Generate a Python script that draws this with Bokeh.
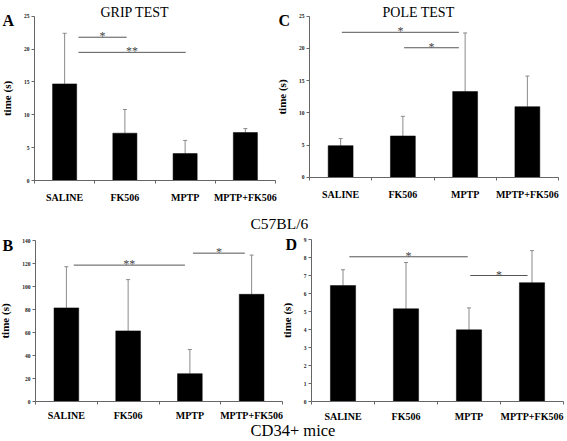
from bokeh.plotting import figure
from bokeh.models import (ColumnDataSource, FixedTicker, Label, Whisker, TeeHead,
                          Range1d, LinearAxis)
from bokeh.embed import file_html
from bokeh.resources import INLINE
from bokeh.core.properties import value

# ---------------- data ----------------
categories = ["SALINE", "FK506", "MPTP", "MPTP+FK506"]

# C57BL/6 - grip test (A)
grip_mean = [14.7, 7.2, 4.1, 7.3]
grip_sd = [7.7, 3.6, 2.0, 0.6]
grip_yticks = [0, 5, 10, 15, 20, 25]
grip_sig_x0 = [1.23, 1.23]
grip_sig_x1 = [2.03, 3.01]
grip_sig_y = [21.8, 19.5]
grip_sig_text = ["*", "**"]

# C57BL/6 - pole test (C)
pole_mean = [4.9, 6.4, 13.3, 10.95]
pole_sd = [1.1, 3.05, 9.1, 4.75]
pole_yticks = [0, 5, 10, 15, 20, 25]
pole_sig_x0 = [1.02, 2.02]
pole_sig_x1 = [2.90, 2.90]
pole_sig_y = [22.5, 20.1]
pole_sig_text = ["*", "*"]

# CD34+ mice - grip test (B)
cd34_grip_mean = [81.4, 61.4, 24.2, 93.2]
cd34_grip_sd = [35.8, 44.6, 21.0, 34.1]
cd34_grip_yticks = [0, 20, 40, 60, 80, 100, 120, 140]
cd34_grip_sig_x0 = [1.12, 3.05]
cd34_grip_sig_x1 = [2.92, 3.89]
cd34_grip_sig_y = [118.6, 129.0]
cd34_grip_sig_text = ["**", "*"]

# CD34+ mice - pole test (D)
cd34_pole_mean = [6.44, 5.15, 3.98, 6.6]
cd34_pole_sd = [0.88, 2.57, 1.22, 1.78]
cd34_pole_yticks = [0, 1, 2, 3, 4, 5, 6, 7, 8, 9]
cd34_pole_sig_x0 = [1.10, 3.02]
cd34_pole_sig_x1 = [2.98, 3.93]
cd34_pole_sig_y = [8.04, 7.0]
cd34_pole_sig_text = ["*", "*"]

FONT = "Liberation Serif"
AXIS_COLOR = "#666666"
W, H = 567, 441

p = figure(width=W, height=H, x_range=Range1d(0, W), y_range=Range1d(0, H),
           x_axis_location=None, y_axis_location=None, toolbar_location=None,
           output_backend="svg", min_border=0, title=None)
p.outline_line_color = None
p.grid.visible = False
p.background_fill_color = "white"
p.border_fill_color = "white"


def add_panel(name, means, sds, yticks, sx0, sx1, sy, stext, L, R, Z, T, xstand):
    """L/R: pixel x of the axis ends, Z/T: pixel y (from top) of y=0 and y=max."""
    n = len(categories)
    xs = list(range(1, n + 1))
    ymax = yticks[-1]
    kx = n / (R - L)
    x0 = 0.5 - L * kx
    ky = ymax / (Z - T)
    p.extra_x_ranges[name] = Range1d(x0, x0 + W * kx)
    p.extra_y_ranges[name] = Range1d(-(H - Z) * ky, ymax + T * ky)
    rn = dict(x_range_name=name, y_range_name=name)

    src = ColumnDataSource(dict(x=xs, mean=means,
                                upper=[m + s for m, s in zip(means, sds)]))
    p.vbar(x="x", top="mean", width=0.4, source=src,
           fill_color="black", line_color="black", line_width=0.5, **rn)
    wh = Whisker(source=src, base="x", lower="mean", upper="upper",
                 line_color="#8a8a8a", line_width=1,
                 upper_head=TeeHead(size=4, line_color="#8a8a8a", line_width=1),
                 lower_head=None, **rn)
    p.add_layout(wh)

    ssrc = ColumnDataSource(dict(x0=sx0, x1=sx1, y=sy, text=stext,
                                 xm=[(a + b) / 2 for a, b in zip(sx0, sx1)]))
    p.segment(x0="x0", y0="y", x1="x1", y1="y", source=ssrc,
              line_color="#555555", line_width=1, **rn)
    p.text(x="xm", y="y", text="text", source=ssrc,
           text_font=value(FONT), text_font_size="12px",
           text_align="center", text_baseline="alphabetic",
           text_color="#444444", y_offset=-1, **rn)

    xa = LinearAxis(fixed_location=0, bounds=(0.5, n + 0.5), **rn)
    xa.ticker = FixedTicker(ticks=xs, minor_ticks=[x - 0.5 for x in xs] + [xs[-1] + 0.5])
    xa.major_label_overrides = {x: c for x, c in zip(xs, categories)}
    xa.major_tick_out = 0
    xa.major_tick_in = 0
    xa.minor_tick_out = 3
    xa.minor_tick_in = 0
    xa.axis_line_color = AXIS_COLOR
    xa.minor_tick_line_color = AXIS_COLOR
    xa.major_label_text_font = FONT
    xa.major_label_text_font_style = "bold"
    xa.major_label_text_font_size = "10px"
    xa.major_label_text_color = "black"
    xa.major_label_standoff = xstand
    p.add_layout(xa, "below")

    ya = LinearAxis(fixed_location=0.5, bounds=(0, ymax), **rn)
    ya.ticker = FixedTicker(ticks=yticks, minor_ticks=[])
    ya.major_tick_out = 3
    ya.major_tick_in = 0
    ya.axis_line_color = AXIS_COLOR
    ya.major_tick_line_color = AXIS_COLOR
    ya.major_label_text_font = FONT
    ya.major_label_text_font_style = "bold"
    ya.major_label_text_font_size = "5.5px"
    ya.major_label_text_color = "#222222"
    ya.major_label_standoff = 2
    ya.axis_label = "time (s)"
    ya.axis_label_text_font = FONT
    ya.axis_label_text_font_style = "bold"
    ya.axis_label_text_font_size = "11px"
    ya.axis_label_text_color = "black"
    ya.axis_label_standoff = 8
    p.add_layout(ya, "left")


add_panel("A", grip_mean, grip_sd, grip_yticks, grip_sig_x0, grip_sig_x1, grip_sig_y,
          grip_sig_text, 34, 275, 180, 15.7, 8)
add_panel("C", pole_mean, pole_sd, pole_yticks, pole_sig_x0, pole_sig_x1, pole_sig_y,
          pole_sig_text, 309, 558, 176.7, 15.7, 9)
add_panel("B", cd34_grip_mean, cd34_grip_sd, cd34_grip_yticks, cd34_grip_sig_x0,
          cd34_grip_sig_x1, cd34_grip_sig_y, cd34_grip_sig_text, 35, 282, 401, 240, 5)
add_panel("D", cd34_pole_mean, cd34_pole_sd, cd34_pole_yticks, cd34_pole_sig_x0,
          cd34_pole_sig_x1, cd34_pole_sig_y, cd34_pole_sig_text, 311, 563, 401, 239, 6)


def add_text(txt, x, y, size, bold=False):
    p.add_layout(Label(x=x, y=y, x_units="screen", y_units="screen", text=txt,
                       text_font=FONT, text_font_style="bold" if bold else "normal",
                       text_font_size=size, text_baseline="alphabetic", text_color="black"))


add_text("A", 2, 421, "16px", True)
add_text("GRIP TEST", 100, 429, "14px")
add_text("C", 278, 421, "16px", True)
add_text("POLE TEST", 382, 429, "14px")
add_text("C57BL/6", 250, 218, "15.5px")
add_text("B", 2, 196, "16px", True)
add_text("D", 285, 197, "16px", True)
add_text("CD34+ mice", 250, 11, "16.5px")

open("out.html", "w").write(file_html(p, INLINE))
